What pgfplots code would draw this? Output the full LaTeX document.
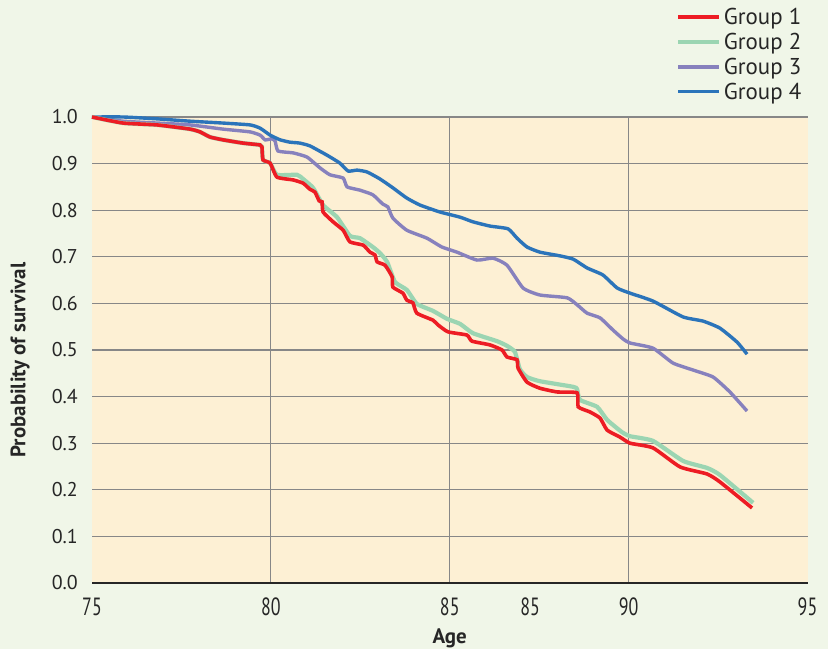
\documentclass[border=0pt]{standalone}
\usepackage{pgfplots}
\pgfplotsset{compat=1.18}
\usepackage{graphicx}
\usepackage{fontspec}
\setmainfont{PT Sans}

\definecolor{outerbg}{RGB}{240,246,232}
\definecolor{plotbg}{RGB}{253,240,212}
\definecolor{gridgray}{RGB}{135,135,135}
\definecolor{gred}{RGB}{237,28,36}
\definecolor{ggreen}{RGB}{155,213,178}
\definecolor{gpurple}{RGB}{135,129,189}
\definecolor{gblue}{RGB}{43,116,186}

\begin{document}
\begin{tikzpicture}
\fill[outerbg] (0,0) rectangle (828bp,649bp);
\begin{axis}[
    at={(92bp,66bp)}, anchor=south west,
    scale only axis,
    width=715.5bp, height=466bp,
    xmin=75, xmax=95, ymin=0, ymax=1,
    axis background/.style={fill=plotbg},
    axis x line*=bottom, axis y line*=left,
    x axis line style={black!85, line width=1.2bp},
    y axis line style={draw=none},
    major tick length=0pt,
    xtick={80,85,90},
    extra x ticks={75,87.25,95},
    extra x tick labels={75,85,95},
    extra x tick style={grid=none},
    ytick={0,0.1,...,1.0},
    xmajorgrids, ymajorgrids,
    grid style={gridgray, line width=1.1bp},
    /pgf/number format/assume math mode=true,
    yticklabel style={/pgf/number format/fixed, /pgf/number format/fixed zerofill, /pgf/number format/precision=1},
    yticklabel style={font=\fontsize{20}{22}\selectfont, anchor=east, inner sep=0pt, xshift=-14bp, text=black!85},
    xticklabel style={font=\fontsize{25}{28}\selectfont, anchor=center, inner sep=0pt, yshift=-24bp, text=black!85, xscale=0.72, transform shape},
    xlabel={\textbf{Age}},
    ylabel={\textbf{Probability of survival}},
    xlabel style={font=\fontsize{21}{24}\selectfont, at={(axis description cs:0.5,-0.118)}, anchor=center, text=black!85},
    ylabel style={font=\fontsize{21}{24}\selectfont, at={(axis description cs:-0.1006,0.4785)}, anchor=center, text=black!85},
    legend style={draw=none, fill=none, at={(axis description cs:1.0,1.238)}, anchor=north east,
        font=\fontsize{23}{25}\selectfont, text=black!85, row sep=7bp,
        nodes={inner xsep=3bp, inner ysep=0bp}},
    legend cell align=left,
    clip=false,
]
\addlegendimage{legend image code/.code={\draw[gred, line width=3.6bp] (0bp,0bp) -- (41bp,0bp);}}
\addlegendentry{Group 1}
\addlegendimage{legend image code/.code={\draw[ggreen, line width=3.6bp] (0bp,0bp) -- (41bp,0bp);}}
\addlegendentry{Group 2}
\addlegendimage{legend image code/.code={\draw[gpurple, line width=3.6bp] (0bp,0bp) -- (41bp,0bp);}}
\addlegendentry{Group 3}
\addlegendimage{legend image code/.code={\draw[gblue, line width=3.6bp] (0bp,0bp) -- (41bp,0bp);}}
\addlegendentry{Group 4}

% Group 3
\addplot[gpurple, line width=3.4bp, smooth, tension=0.3, forget plot] coordinates {
(75.00,1.000)(75.87,0.991)(76.82,0.987)(77.74,0.983)(78.66,0.974)(79.42,0.968)(79.70,0.961)(79.84,0.951)(80.03,0.953)(80.12,0.948)(80.20,0.927)(80.62,0.923)(81.01,0.914)(81.37,0.891)(81.65,0.876)(82.02,0.869)(82.13,0.850)(82.49,0.843)(82.85,0.833)(83.13,0.813)(83.27,0.807)(83.41,0.783)(83.80,0.757)(84.36,0.740)(84.78,0.721)(85.20,0.710)(85.76,0.693)(86.21,0.697)(86.60,0.682)(87.05,0.633)(87.52,0.618)(88.28,0.612)(88.56,0.597)(88.84,0.579)(89.20,0.569)(89.56,0.543)(89.84,0.524)(90.04,0.515)(90.68,0.504)(91.24,0.472)(91.80,0.457)(92.36,0.442)(92.83,0.410)(93.31,0.369)
};
% Group 4
\addplot[gblue, line width=3.4bp, smooth, tension=0.3, forget plot] coordinates {
(75.00,1.000)(75.87,1.000)(76.82,0.996)(77.74,0.991)(78.66,0.987)(79.42,0.983)(79.70,0.976)(79.98,0.961)(80.26,0.951)(80.53,0.946)(80.81,0.944)(81.09,0.938)(81.57,0.918)(81.93,0.901)(82.16,0.884)(82.41,0.886)(82.69,0.882)(83.05,0.867)(83.41,0.848)(83.80,0.826)(84.17,0.811)(84.73,0.796)(85.29,0.785)(85.65,0.775)(86.12,0.766)(86.63,0.760)(86.88,0.740)(87.16,0.721)(87.52,0.710)(88.08,0.702)(88.45,0.695)(88.84,0.676)(89.28,0.661)(89.68,0.633)(90.04,0.622)(90.68,0.605)(91.52,0.571)(92.08,0.562)(92.55,0.547)(93.03,0.517)(93.31,0.491)
};
% Group 2
\addplot[ggreen, line width=4.2bp, smooth, tension=0.3, forget plot] coordinates {
(75.00,1.000)(75.87,0.987)(76.82,0.983)(77.74,0.974)(78.02,0.968)(78.30,0.957)(78.66,0.951)(79.22,0.944)(79.70,0.940)(79.75,0.936)(79.78,0.908)(79.98,0.901)(80.17,0.876)(80.73,0.876)(80.90,0.867)(81.18,0.848)(81.46,0.811)(81.85,0.785)(82.21,0.745)(82.49,0.740)(82.85,0.721)(83.05,0.708)(83.25,0.689)(83.47,0.646)(83.80,0.629)(84.08,0.599)(84.53,0.584)(84.92,0.567)(85.29,0.556)(85.65,0.536)(86.32,0.519)(86.60,0.509)(86.82,0.496)(86.96,0.459)(87.16,0.442)(87.52,0.433)(88.45,0.421)(88.56,0.416)(88.64,0.393)(89.12,0.378)(89.40,0.350)(89.81,0.324)(90.04,0.315)(90.68,0.305)(91.52,0.262)(92.19,0.247)(92.55,0.232)(93.48,0.172)
};
% Group 1
\addplot[gred, line width=3.6bp, smooth, tension=0.3, forget plot] coordinates {
(75.00,1.000)(75.87,0.987)(76.82,0.983)(77.74,0.974)(78.02,0.968)(78.30,0.957)(78.66,0.951)(79.22,0.944)(79.70,0.940)(79.75,0.936)(79.78,0.908)(79.98,0.901)(80.17,0.871)(80.62,0.865)(80.90,0.858)(81.09,0.845)(81.23,0.839)(81.35,0.820)(81.43,0.818)(81.46,0.796)(81.74,0.775)(82.02,0.757)(82.21,0.732)(82.58,0.725)(82.77,0.710)(82.91,0.704)(82.97,0.689)(83.19,0.682)(83.39,0.657)(83.41,0.635)(83.69,0.622)(83.80,0.607)(83.97,0.601)(84.08,0.579)(84.53,0.564)(84.67,0.554)(84.95,0.539)(85.48,0.532)(85.62,0.519)(86.12,0.511)(86.46,0.500)(86.60,0.485)(86.88,0.479)(86.91,0.461)(87.16,0.431)(87.52,0.418)(88.00,0.410)(88.56,0.408)(88.59,0.378)(88.92,0.367)(89.20,0.354)(89.40,0.328)(89.76,0.313)(90.04,0.300)(90.68,0.290)(91.44,0.249)(92.19,0.234)(92.55,0.217)(93.45,0.161)
};
\end{axis}
\end{tikzpicture}
\end{document}
